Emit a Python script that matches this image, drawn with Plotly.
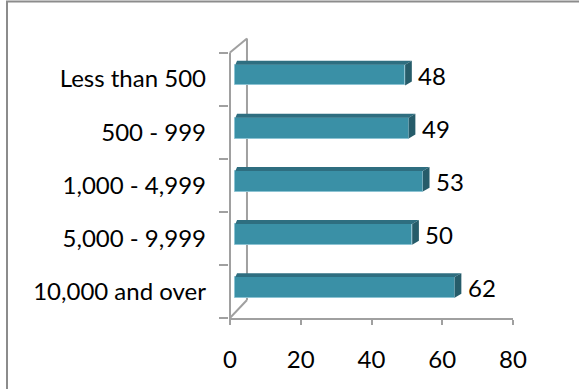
import plotly.graph_objects as go

# ---- data ----
categories = ["Less than 500", "500 - 999", "1,000 - 4,999", "5,000 - 9,999", "10,000 and over"]
values = [48, 49, 53, 50, 62]
x_ticks = [0, 20, 40, 60, 80]

# ---- styling / pseudo-3D geometry (data units) ----
FRONT = "#3A90A6"
TOP = "#2E6E80"
SIDE = "#265C6A"
AXIS = "#A0A0A0"
FONT = "Lato"
FS = 24

BAR_BASE = 1.5      # front face starts slightly behind the front plane
BAR_SHIFT = -0.075  # front face shifted up (depth)
BAR_W = 0.39
TOP_DXR = 1.9
TOP_DXL = 0.5
TOP_DY = 0.075
WALL_DX = 4.8
WALL_DY_TOP = 0.264
WALL_DY_BOT = 0.339

W, H = 579, 389
L, R, T, B = 229, 66, 34, 71
plot_w = W - L - R
plot_h = H - T - B
y_top = 4.5 - plot_h / 53.1
x_left = -(230 - L) / 3.5375

idx = list(range(len(categories)))

fig = go.Figure()

# front faces
fig.add_trace(go.Bar(
    y=[i + BAR_SHIFT for i in idx], x=values, base=BAR_BASE, orientation="h",
    width=BAR_W, marker=dict(color=FRONT, line=dict(color="#8CC3D3", width=1)),
    showlegend=False, hoverinfo="skip", yaxis="y"))

# top and side faces
for i, v in zip(idx, values):
    yc = i + BAR_SHIFT
    yt = yc - BAR_W / 2
    yb = yc + BAR_W / 2
    xl = BAR_BASE
    xr = BAR_BASE + v
    fig.add_trace(go.Scatter(
        x=[xl, xr, xr + TOP_DXR, xl + TOP_DXL, xl],
        y=[yt, yt, yt - TOP_DY, yt - TOP_DY, yt],
        fill="toself", fillcolor=TOP, line=dict(width=0), mode="lines",
        showlegend=False, hoverinfo="skip"))
    fig.add_trace(go.Scatter(
        x=[xr, xr + TOP_DXR, xr + TOP_DXR, xr, xr],
        y=[yt, yt - TOP_DY, yb - TOP_DY, yb, yt],
        fill="toself", fillcolor=SIDE, line=dict(width=0), mode="lines",
        showlegend=False, hoverinfo="skip"))

# value labels
for i, v in zip(idx, values):
    fig.add_annotation(x=BAR_BASE + v + TOP_DXR + 1.2, y=i + BAR_SHIFT, text=str(v),
                       showarrow=False, xanchor="left", yanchor="middle",
                       font=dict(family=FONT, size=FS, color="black"))

# walls / axis decorations
line = dict(color=AXIS, width=2)
fig.add_shape(type="line", x0=0, x1=0, y0=-0.5, y1=4.5, line=line, layer="below")
fig.add_shape(type="line", x0=0, x1=WALL_DX, y0=-0.5, y1=-0.5 - WALL_DY_TOP, line=line, layer="below")
fig.add_shape(type="line", x0=WALL_DX, x1=WALL_DX, y0=-0.5 - WALL_DY_TOP, y1=4.5 - WALL_DY_BOT, line=line, layer="below")
fig.add_shape(type="line", x0=0, x1=WALL_DX, y0=4.5, y1=4.5 - WALL_DY_BOT, line=line, layer="below")

# outer chart border
fig.add_shape(type="rect", xref="paper", yref="paper",
              x0=(7 - L) / plot_w, x1=(600 - L) / plot_w,
              y0=(H - B - 410) / plot_h, y1=(H - B - 1.5) / plot_h,
              line=dict(color="#8C8C8C", width=2), fillcolor="rgba(0,0,0,0)", layer="below")

fig.update_layout(
    width=W, height=H, margin=dict(l=L, r=R, t=T, b=B),
    paper_bgcolor="white", plot_bgcolor="white", showlegend=False, bargap=0,
    xaxis=dict(range=[x_left, 80], tickvals=x_ticks, ticktext=[str(t) for t in x_ticks],
               showgrid=False, zeroline=False, showline=True, linecolor=AXIS, linewidth=2,
               ticks="outside", ticklen=5, tickwidth=2, tickcolor=AXIS,
               tickfont=dict(family=FONT, size=FS, color="black"), ticklabelstandoff=14),
    yaxis=dict(range=[4.5, y_top], tickvals=[k - 0.5 for k in range(len(categories) + 1)],
               ticktext=[""] * (len(categories) + 1), showgrid=False, zeroline=False,
               showline=False, ticks="outside", ticklen=9, tickwidth=2, tickcolor=AXIS),
    yaxis2=dict(range=[4.5, y_top], overlaying="y", side="left", tickvals=idx,
                ticktext=categories, showgrid=False, zeroline=False, showline=False,
                ticks="", tickfont=dict(family=FONT, size=FS, color="black"),
                ticklabelstandoff=22),
)
# dummy invisible trace to activate yaxis2
fig.add_trace(go.Scatter(x=[None], y=[None], yaxis="y2", showlegend=False, hoverinfo="skip"))

fig.write_html("out.html", config={"displayModeBar": False},
               post_script="document.body.style.margin='0';document.body.style.overflow='hidden';")
